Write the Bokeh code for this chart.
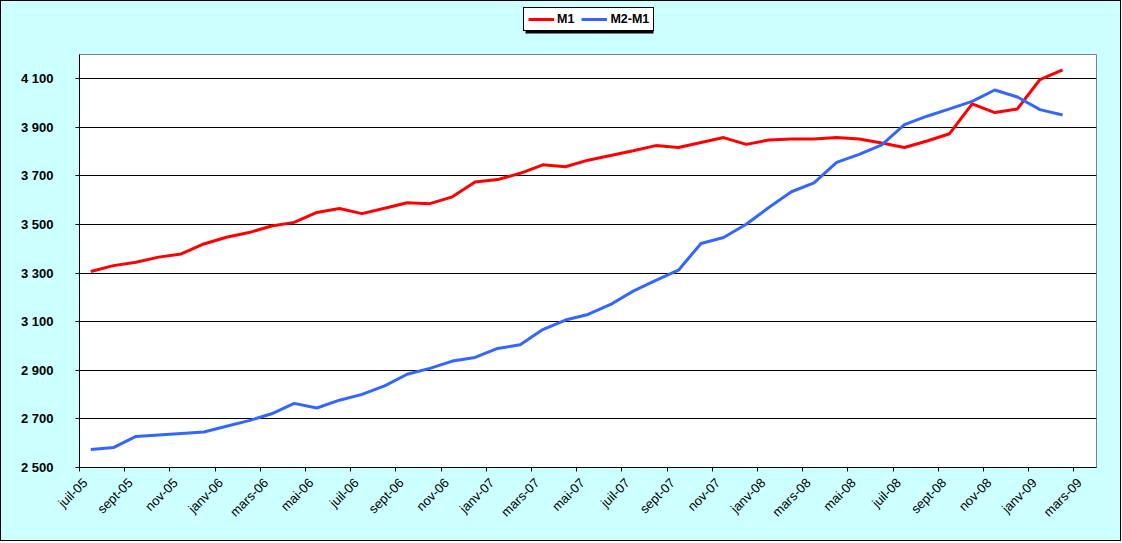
from math import pi
from bokeh.plotting import figure
from bokeh.layouts import column
from bokeh.models import (Range1d, FixedTicker, CustomJSTickFormatter, Legend,
                          LegendItem, ColumnDataSource, BoxAnnotation)
from bokeh.embed import file_html
from bokeh.resources import INLINE

# ---- data -------------------------------------------------------------
categories = [
    "juil-05", "août-05", "sept-05", "oct-05", "nov-05", "déc-05",
    "janv-06", "févr-06", "mars-06", "avr-06", "mai-06", "juin-06",
    "juil-06", "août-06", "sept-06", "oct-06", "nov-06", "déc-06",
    "janv-07", "févr-07", "mars-07", "avr-07", "mai-07", "juin-07",
    "juil-07", "août-07", "sept-07", "oct-07", "nov-07", "déc-07",
    "janv-08", "févr-08", "mars-08", "avr-08", "mai-08", "juin-08",
    "juil-08", "août-08", "sept-08", "oct-08", "nov-08", "déc-08",
    "janv-09", "févr-09", "mars-09",
]
m1 = [3307, 3331, 3345, 3366, 3379, 3420, 3448, 3467, 3494, 3509, 3550, 3566,
      3545, 3567, 3590, 3586, 3614, 3675, 3685, 3711, 3746, 3738, 3765, 3784,
      3804, 3825, 3817, 3838, 3858, 3830, 3848, 3852, 3852, 3858, 3852, 3836,
      3817, 3844, 3874, 3997, 3961, 3976, 4097, 4137]
m2_m1 = [2574, 2582, 2628, 2634, 2640, 2646, 2670, 2693, 2721, 2764, 2745, 2777,
         2801, 2836, 2884, 2908, 2938, 2953, 2990, 3005, 3068, 3107, 3130, 3171,
         3226, 3270, 3312, 3422, 3447, 3501, 3570, 3635, 3672, 3756, 3789, 3828,
         3911, 3946, 3976, 4007, 4054, 4025, 3973, 3951]
y_ticks = [2500, 2700, 2900, 3100, 3300, 3500, 3700, 3900, 4100]
y_tick_labels = ["2 500", "2 700", "2 900", "3 100", "3 300", "3 500",
                 "3 700", "3 900", "4 100"]
series_names = ["M1", "M2-M1"]
colors = ["#FF0000", "#3366FF"]

BG = "#CCFFFF"
W = 1119
BL, BR = 78, 24   # left / right borders shared by both rows

n_cat = len(categories)
x_pos = [i + 0.5 for i in range(len(m1))]
src = ColumnDataSource(dict(x=x_pos, m1=m1, m2=m2_m1))

# ---- legend strip (top) ------------------------------------------------
# ranges in pixels of this strip, so the series fall outside and stay hidden;
# they only supply the legend swatches
top = figure(width=W, height=52, output_backend="svg", toolbar_location=None,
             x_axis_type=None, y_axis_type=None, min_border=0,
             min_border_left=BL, min_border_right=BR,
             x_range=Range1d(BL, W - BR), y_range=Range1d(52, 0))
top.background_fill_color = BG
top.border_fill_color = BG
top.outline_line_color = None
top.grid.visible = False
top.add_layout(BoxAnnotation(left=524, right=652, top=9, bottom=32,
                             fill_color="black", fill_alpha=1,
                             line_color=None))
d1 = top.line("x", "m1", source=src, line_color=colors[0], line_width=3)
d2 = top.line("x", "m2", source=src, line_color=colors[1], line_width=3)
legend = Legend(items=[LegendItem(label=series_names[0], renderers=[d1]),
                       LegendItem(label=series_names[1], renderers=[d2])],
                orientation="horizontal", location=(522 - BL, 22))
legend.border_line_color = "black"
legend.border_line_width = 1
legend.border_line_alpha = 1
legend.background_fill_color = "white"
legend.background_fill_alpha = 1
legend.label_text_font = "Liberation Sans"
legend.label_text_font_style = "bold"
legend.label_text_font_size = "12.5px"
legend.label_text_color = "black"
legend.glyph_width = 26
legend.glyph_height = 14
legend.label_standoff = 3
legend.label_height = 14
legend.label_width = 10
legend.spacing = 7
legend.padding = 4
legend.margin = 0
top.add_layout(legend, "center")

# ---- main chart ---------------------------------------------------------
p = figure(width=W, height=487, output_backend="svg", toolbar_location=None,
           x_range=Range1d(0, n_cat), y_range=Range1d(2500, 4200),
           min_border_left=BL, min_border_right=BR, min_border_top=1,
           min_border_bottom=73)
p.border_fill_color = BG
p.background_fill_color = "white"
p.outline_line_color = "#808080"
p.outline_line_width = 1

p.line("x", "m1", source=src, line_color=colors[0], line_width=3)
p.line("x", "m2", source=src, line_color=colors[1], line_width=3)

xa = p.xaxis[0]
xa.ticker = FixedTicker(ticks=[i + 0.25 for i in range(0, n_cat, 2)],
                        minor_ticks=list(range(0, n_cat, 2)))
xa.formatter = CustomJSTickFormatter(args=dict(cats=categories),
                                     code="return cats[Math.round(tick - 0.25)] || ''")
xa.major_tick_line_color = None
xa.minor_tick_line_color = "black"
xa.minor_tick_out = 4
xa.minor_tick_in = 0
xa.major_tick_out = 4
xa.major_tick_in = 0
xa.major_label_orientation = pi / 4
xa.major_label_standoff = 9
xa.major_label_text_font = "Liberation Sans"
xa.major_label_text_font_size = "13px"
xa.major_label_text_color = "black"
xa.axis_line_color = "black"

ya = p.yaxis[0]
ya.ticker = FixedTicker(ticks=y_ticks, minor_ticks=[])
ya.formatter = CustomJSTickFormatter(args=dict(yt=y_ticks, yl=y_tick_labels),
                                     code="const i = yt.indexOf(tick); return i >= 0 ? yl[i] : ''")
ya.major_tick_out = 4
ya.major_tick_in = 0
ya.major_tick_line_color = "black"
ya.major_label_standoff = 22
ya.major_label_text_font = "Liberation Sans"
ya.major_label_text_font_style = "bold"
ya.major_label_text_font_size = "13px"
ya.major_label_text_color = "black"
ya.axis_line_color = "black"

p.xgrid.visible = False
p.ygrid.ticker = FixedTicker(ticks=y_ticks)
p.ygrid.grid_line_color = "black"
p.ygrid.grid_line_width = 1

layout = column(top, p, spacing=0)
layout.styles = {"border": "1px solid black", "background-color": BG}

open("out.html", "w").write(file_html(layout, INLINE))
